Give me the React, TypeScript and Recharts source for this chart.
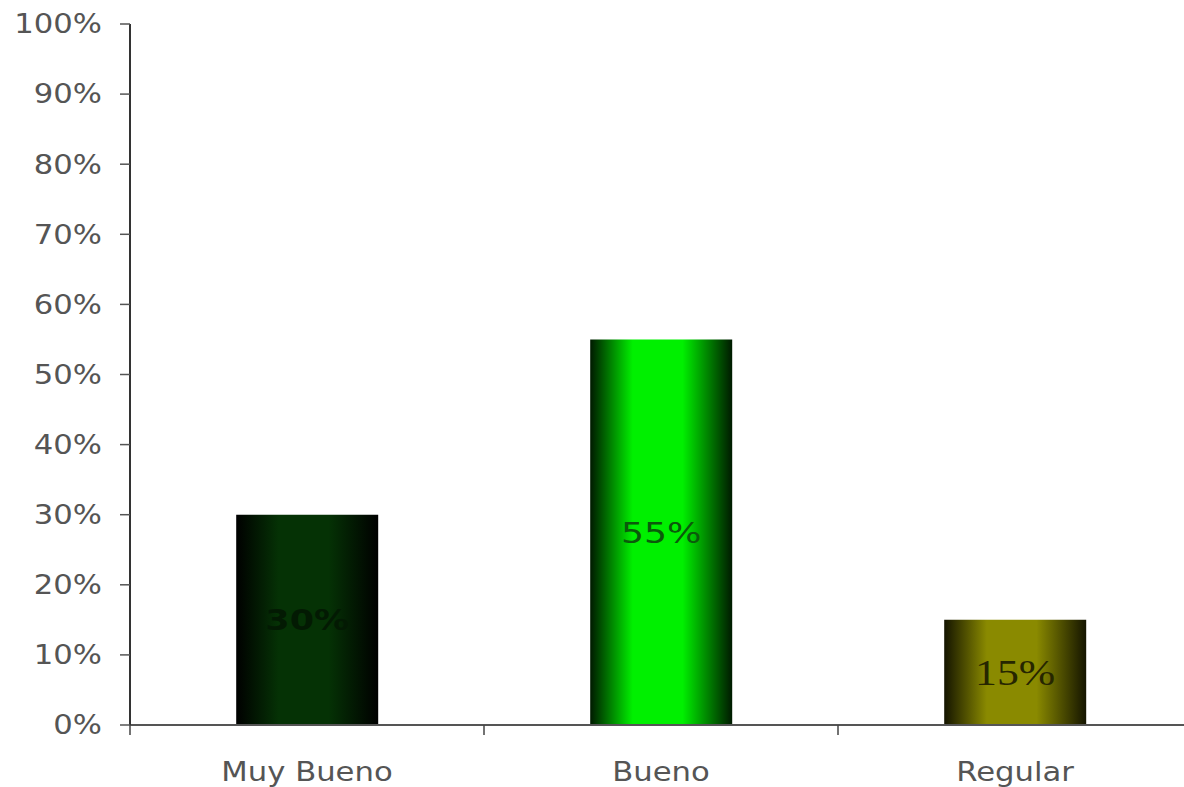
import React from 'react';
import { BarChart, Bar, XAxis, YAxis, Cell, LabelList } from 'recharts';

const categories = ['Muy Bueno', 'Bueno', 'Regular'];
const values = [30, 55, 15];
const yTicks = [0, 10, 20, 30, 40, 50, 60, 70, 80, 90, 100];

const data = categories.map((name, i) => ({ name, value: values[i] }));

const CHART_W = 1200;
const CHART_H = 787;
const MARGIN = { top: 24, right: 8, bottom: 0, left: 0 };
const Y_AXIS_W = 130;
const X_AXIS_H = 62;
const BAND = (CHART_W - MARGIN.left - MARGIN.right - Y_AXIS_W) / categories.length;
const STRETCH = 1.18; // the original glyphs are wider than DejaVu's

// edge / center colours for each bar's cylinder-like shading
const shades = [
  { edge: '#000000', mid: '#053205' },
  { edge: '#001a00', mid: '#00f000' },
  { edge: '#141400', mid: '#8a8a00' },
];

const labelStyles = [
  { fill: '#031a03', fontFamily: '"DejaVu Sans", Verdana, sans-serif', fontWeight: 700, fontSize: 28 },
  { fill: '#0b5a0b', fontFamily: '"DejaVu Sans", Verdana, sans-serif', fontWeight: 400, fontSize: 29 },
  { fill: '#262600', fontFamily: '"Liberation Serif", "Times New Roman", serif', fontWeight: 400, fontSize: 35 },
];

const font = '"DejaVu Sans", Verdana, sans-serif';

const XTick = (props: any) => {
  const { x, y, payload } = props;
  const left = x - BAND / 2;
  return (
    <g>
      <line x1={left} y1={y - 8} x2={left} y2={y + 2} stroke="#444" strokeWidth={1.5} />
      <text
        transform={`translate(${x},${y + 48}) scale(${STRETCH},1)`}
        textAnchor="middle"
        fill="#555"
        fontSize={26}
        fontFamily={font}
      >
        {payload.value}
      </text>
    </g>
  );
};

const YTick = (props: any) => {
  const { x, y, payload } = props;
  return (
    <text
      transform={`translate(${x},${y}) scale(${STRETCH},1)`}
      dy="0.36em"
      textAnchor="end"
      fill="#555"
      fontSize={26}
      fontFamily={font}
    >
      {`${payload.value}%`}
    </text>
  );
};

const BarValue = (props: any) => {
  const { x, y, width, height, index, value } = props;
  const s = labelStyles[index];
  return (
    <text
      transform={`translate(${x + width / 2},${y + height / 2}) scale(1.25,1)`}
      dy="0.36em"
      textAnchor="middle"
      {...s}
    >
      {`${value}%`}
    </text>
  );
};

export default function App() {
  return (
    <div style={{ position: 'fixed', left: 0, top: 0, width: 1184, height: 787, overflow: 'hidden', background: '#fff' }}>
      <BarChart width={CHART_W} height={CHART_H} data={data} margin={MARGIN} barCategoryGap="30%">
        <defs>
          {shades.map((s, i) => (
            <linearGradient key={i} id={`shade${i}`} x1="0" y1="0" x2="1" y2="0">
              <stop offset="0%" stopColor={s.edge} />
              <stop offset="30%" stopColor={s.mid} />
              <stop offset="65%" stopColor={s.mid} />
              <stop offset="100%" stopColor={s.edge} />
            </linearGradient>
          ))}
        </defs>
        <XAxis
          dataKey="name"
          height={X_AXIS_H}
          axisLine={{ stroke: '#555', strokeWidth: 2 }}
          tickLine={false}
          tick={<XTick />}
          interval={0}
        />
        <YAxis
          width={Y_AXIS_W}
          domain={[0, 100]}
          ticks={yTicks}
          axisLine={{ stroke: '#333', strokeWidth: 2 }}
          tickLine={{ stroke: '#555', strokeWidth: 1.5 }}
          tickSize={10}
          tickMargin={18}
          tick={<YTick />}
        />
        <Bar dataKey="value" isAnimationActive={false}>
          {data.map((_, i) => (
            <Cell key={i} fill={`url(#shade${i})`} />
          ))}
          <LabelList dataKey="value" content={<BarValue />} />
        </Bar>
      </BarChart>
    </div>
  );
}
